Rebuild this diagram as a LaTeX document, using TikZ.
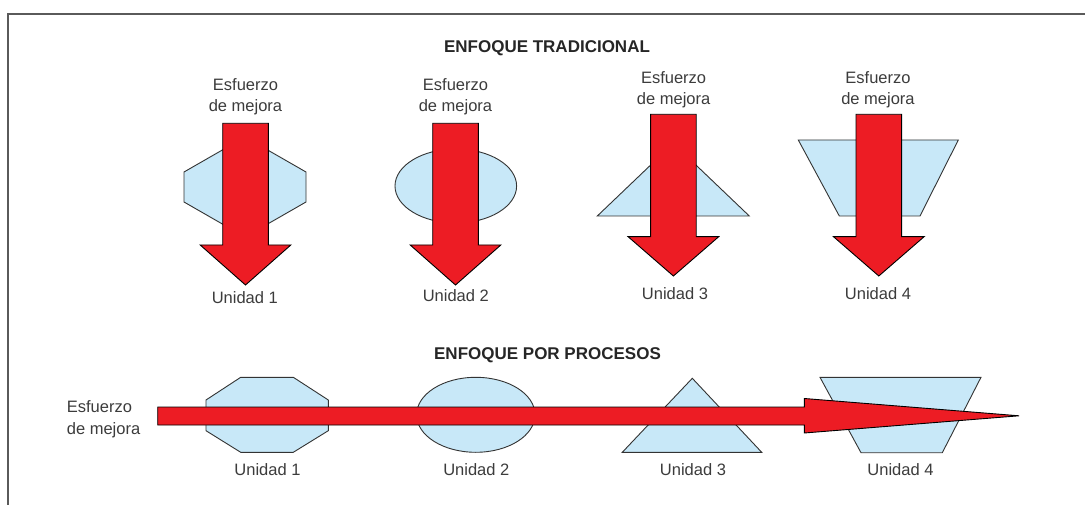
\documentclass[tikz,border=0pt]{standalone}
\usepackage{fontspec}
\setmainfont{Liberation Sans}
\definecolor{arrowred}{HTML}{ED1C24}
\definecolor{unitblue}{HTML}{C8E8F8}
\definecolor{framegray}{HTML}{5A5A5A}
\definecolor{textgray}{HTML}{3C3C3C}
\tikzset{
  unitshape/.style={fill=unitblue, draw=black!80, line width=0.9pt, line join=miter},
  redarrow/.style={fill=arrowred, draw=black, line width=0.9pt, line join=miter},
  lbl/.style={inner sep=0pt, text=textgray, font=\fontsize{16.5}{21}\selectfont, align=center},
  ttl/.style={inner sep=0pt, text=black!85, font=\bfseries\fontsize{17}{20}\selectfont}
}
\newcommand\mydownarrow[4]{%
  \draw[redarrow] (#1-22.8,#2) -- (#1+22.8,#2) -- (#1+22.8,#3) -- (#1+45.3,#3)
    -- (#1,#4) -- (#1-45.3,#3) -- (#1-22.8,#3) -- cycle;}
\begin{document}
\begin{tikzpicture}[x=1pt,y=-1pt]
\useasboundingbox (0,0) rectangle (1085,505);
\fill[white] (0,0) rectangle (1085,505);
% frame
\draw[framegray, line width=2pt] (8,506) -- (8,14) -- (1086,14);

% ---------- ENFOQUE TRADICIONAL ----------
\node[ttl] (t1) at (547,48) {ENFOQUE TRADICIONAL};

% unit shapes
\draw[unitshape] (184,172) -- (245,137) -- (306,172) -- (306,202) -- (245,237) -- (184,202) -- cycle;
\draw[unitshape] (455.8,186) ellipse [x radius=60.8, y radius=37];
\draw[unitshape] (597.3,216) -- (673.3,143.4) -- (749.3,216) -- cycle;
\draw[unitshape] (798.3,140) -- (958.3,140) -- (920,216) -- (839.3,216) -- cycle;

% arrows
\mydownarrow{245.5}{123.3}{245}{285}
\mydownarrow{455.5}{123.3}{245}{285}
\mydownarrow{673.4}{114.3}{236.7}{276}
\mydownarrow{878.8}{114.3}{236.7}{276}

% labels
\node[lbl] (e1) at (245.5,97) {Esfuerzo\\de mejora};
\node[lbl] (e2) at (455.5,97) {Esfuerzo\\de mejora};
\node[lbl] (e3) at (673.6,89.5) {Esfuerzo\\de mejora};
\node[lbl] (e4) at (878,89.5) {Esfuerzo\\de mejora};
\node[lbl] (u1) at (244.8,297.7) {Unidad 1};
\node[lbl] (u2) at (455.8,296) {Unidad 2};
\node[lbl] (u3) at (675,293.3) {Unidad 3};
\node[lbl] (u4) at (878,293.3) {Unidad 4};

% ---------- ENFOQUE POR PROCESOS ----------
\node[ttl] (t2) at (547.5,355) {ENFOQUE POR PROCESOS};

\draw[unitshape] (206,400) -- (240.7,377.3) -- (293.3,377.3) -- (328.3,400) -- (328.3,430.7)
  -- (293.3,452.3) -- (240.7,452.3) -- (206,430.7) -- cycle;
\draw[unitshape] (475.8,414.8) ellipse [x radius=59.2, y radius=37.5];
\draw[unitshape] (622.3,452.3) -- (692.3,378.3) -- (761.7,452.3) -- cycle;
\draw[unitshape] (820,377.3) -- (981,377.3) -- (942.3,452.7) -- (861,452.7) -- cycle;

\draw[redarrow] (157.7,407) -- (804.3,407) -- (804.3,398.5) -- (1019,415.8)
  -- (804.3,433) -- (804.3,425) -- (157.7,425) -- cycle;

\node[lbl, align=left, anchor=west, font=\fontsize{16.5}{22}\selectfont] (eh) at (66.7,419) {Esfuerzo\\de mejora};
\node[lbl] (v1) at (267.5,469.5) {Unidad 1};
\node[lbl] (v2) at (476.3,469.5) {Unidad 2};
\node[lbl] (v3) at (693,469.5) {Unidad 3};
\node[lbl] (v4) at (900.5,469.5) {Unidad 4};
\end{tikzpicture}
\end{document}
